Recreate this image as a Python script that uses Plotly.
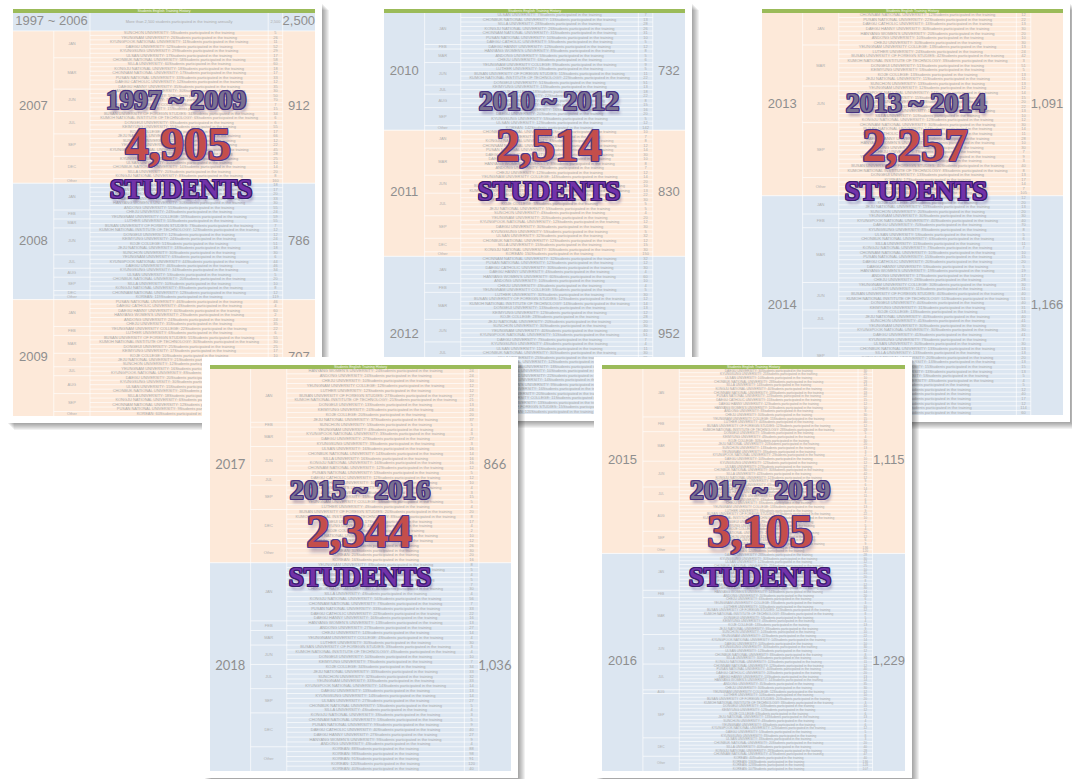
import plotly.graph_objects as go

W, H = 1072, 779

# ---------------- data ----------------
PANEL_RANGES = ["1997 ~ 2009", "2010 ~ 2012", "2013 ~ 2014", "2015 ~ 2016", "2017 ~ 2019"]
PANEL_TOTALS = ["4,905", "2,514", "2,257", "2,344", "3,105"]
PANEL_WORD = "STUDENTS"

PANEL_YEARS = [["1997 ~ 2006", "2007", "2008", "2009"], ["2010", "2011", "2012"],
               ["2013", "2014"], ["2017", "2018"], ["2015", "2016"]]
PANEL_YEAR_TOTALS = [["2,500", "912", "786", "707"], ["732", "830", "952"],
                     ["1,091", "1,166"], ["866", "1,036"], ["1,115", "1,229"]]

HEADER = "Students English Training History"
EARLY_NOTE = "More than 2,500 students participated in the training annually"
EARLY_COUNT = "2,500"
SENTENCE = "Students participated in the training"
OTHER_NAME = "KOREAN"
UNIVERSITIES = [
    "SUNCHON UNIVERSITY", "YEUNGNAM UNIVERSITY", "KYUNGPOOK NATIONAL UNIVERSITY",
    "DAEGU UNIVERSITY", "KYUNGSUNG UNIVERSITY", "ULSAN UNIVERSITY",
    "CHONBUK NATIONAL UNIVERSITY", "SILLA UNIVERSITY", "KONGJU NATIONAL UNIVERSITY",
    "CHONNAM NATIONAL UNIVERSITY", "PUSAN NATIONAL UNIVERSITY", "DAEGU CATHOLIC UNIVERSITY",
    "DAEGU HANNY UNIVERSITY", "HANYANG WOMEN'S UNIVERSITY", "ANDONG UNIVERSITY",
    "CHEJU UNIVERSITY", "YEUNGNAM UNIVERSITY COLLEGE", "LUTHER UNIVERSITY",
    "BUSAN UNIVERSITY OF FOREIGN STUDIES", "KUMOH NATIONAL INSTITUTE OF TECHNOLOGY",
    "DONGEUI UNIVERSITY", "KEIMYUNG UNIVERSITY", "KOJE COLLEGE", "JEJU NATIONAL UNIVERSITY",
]

MONTHS_2007 = ["JAN", "MAR", "JUN", "JUL", "SEP", "DEC", "Other"]
SPANS_2007 = [6, 7, 5, 5, 5, 5, 1]
COUNTS_2007 = [5, 26, 11, 52, 29, 17, 58, 60, 18, 17, 33, 12, 35, 30, 50, 70, 7, 15, 34, 6, 6, 55,
               17, 66, 12, 22, 45, 28, 25, 10, 14, 20, 8, 160]

MONTHS_2008 = ["JAN", "FEB", "MAR", "JUN", "JUL", "AUG", "SEP", "DEC", "Other"]
SPANS_2008 = [6, 2, 2, 6, 3, 2, 3, 1, 1]
COUNTS_2008 = [18, 17, 20, 33, 30, 55, 24, 59, 55, 7, 12, 12, 24, 51, 18, 30, 6, 44, 46, 34, 5, 20,
               10, 8, 12, 119]

MONTHS_2009 = ["JAN", "FEB", "MAR", "JUN", "JUL", "AUG", "SEP", "Other"]
SPANS_2009 = [6, 2, 4, 3, 2, 4, 4, 1]
COUNTS_2009 = [46, 4, 60, 2, 24, 35, 22, 6, 55, 30, 25, 17, 10, 21, 12, 16, 8, 20, 30, 15, 24, 18,
               6, 12, 9, 60]

MONTHS_2010 = ["JAN", "FEB", "MAR", "JUN", "JUL", "AUG", "SEP", "Other"]
SPANS_2010 = [7, 1, 3, 5, 2, 3, 4, 1]
COUNTS_2010 = [7, 13, 28, 26, 31, 10, 5, 12, 8, 5, 6, 9, 5, 11, 22, 51, 13, 18, 22, 8, 15, 16, 20,
               5, 12, 142]

MONTHS_2011 = ["JAN", "MAR", "JUN", "JUL", "SEP", "DEC", "Other"]
SPANS_2011 = [4, 6, 4, 5, 5, 3, 1]
COUNTS_2011 = [10, 7, 8, 12, 14, 30, 10, 8, 7, 12, 14, 20, 10, 13, 22, 30, 5, 5, 4, 20, 12, 30, 5,
               32, 12, 15, 30, 150]

MONTHS_2012 = ["JAN", "FEB", "MAR", "JUN", "JUL", "AUG", "SEP", "DEC", "Other"]
SPANS_2012 = [6, 2, 6, 5, 5, 3, 4, 3, 1]
COUNTS_2012 = [32, 12, 30, 4, 60, 10, 4, 5, 30, 12, 14, 13, 12, 28, 20, 30, 40, 51, 7, 4, 11, 30,
               25, 12, 18, 10, 22, 14, 9, 16, 20, 11, 13, 15, 120]

MONTHS_2013 = ["JAN", "MAR", "JUN", "SEP", "Other"]
SPANS_2013 = [7, 9, 8, 12, 4]
COUNTS_2013 = [12, 22, 13, 30, 20, 10, 30, 13, 24, 42, 3, 51, 5, 13, 11, 13, 12, 14, 15, 20, 22,
               13, 10, 12, 30, 14, 11, 28, 10, 30, 7, 9, 3, 40, 8, 13, 17, 14, 7, 105]

MONTHS_2014 = ["JAN", "FEB", "MAR", "JUN", "JUL", "SEP", "Other"]
SPANS_2014 = [4, 3, 12, 6, 4, 12, 7]
COUNTS_2014 = [12, 20, 13, 20, 30, 40, 70, 8, 5, 6, 11, 7, 10, 15, 20, 5, 19, 17, 28, 30, 11, 40,
               51, 40, 31, 13, 40, 41, 30, 30, 41, 7, 30, 13, 13, 20, 13, 15, 13, 5, 4, 5, 12, 40,
               17, 12, 114, 60]

MONTHS_2017 = ["JAN", "FEB", "MAR", "JUN", "JUL", "SEP", "DEC", "Other"]
SPANS_2017 = [11, 1, 4, 6, 2, 5, 7, 4]
COUNTS_2017 = [24, 24, 10, 12, 12, 27, 21, 13, 24, 20, 37, 5, 4, 3, 27, 3, 16, 14, 16, 16, 12, 5,
               12, 10, 4, 3, 15, 5, 4, 20, 8, 17, 4, 2, 10, 12, 26, 30, 20, 16]

MONTHS_2018 = ["JAN", "FEB", "MAR", "JUN", "JUL", "SEP", "DEC", "Other"]
SPANS_2018 = [12, 2, 3, 4, 5, 5, 7, 5]
COUNTS_2018 = [8, 5, 4, 5, 7, 30, 4, 56, 7, 33, 22, 16, 13, 27, 14, 4, 30, 3, 4, 10, 7, 34, 33, 32,
               33, 14, 13, 14, 27, 5, 4, 3, 5, 9, 40, 27, 9, 4, 88, 98, 91, 120, 40]

MONTHS_2015 = ["JAN", "FEB", "MAR", "JUN", "JUL", "AUG", "SEP", "Other"]
SPANS_2015 = [13, 4, 8, 7, 4, 8, 4, 2]
COUNTS_2015 = [30, 25, 10, 28, 14, 40, 18, 22, 15, 12, 10, 8, 30, 15, 40, 12, 28, 5, 4, 30, 20, 13,
               3, 2, 10, 12, 27, 30, 42, 12, 9, 6, 14, 4, 11, 6, 8, 13, 9, 22, 10, 7, 5, 4, 20, 12,
               6, 9, 136, 120]

MONTHS_2016 = ["JAN", "FEB", "MAR", "JUN", "JUL", "AUG", "SEP", "DEC", "Other"]
SPANS_2016 = [10, 2, 10, 8, 7, 1, 12, 5, 4]
COUNTS_2016 = [28, 30, 12, 25, 10, 15, 20, 8, 12, 30, 14, 20, 6, 3, 10, 12, 8, 5, 4, 13, 9, 10, 22,
               14, 10, 30, 12, 8, 30, 11, 12, 40, 20, 13, 14, 35, 30, 12, 10, 20, 3, 10, 12, 6, 13,
               4, 6, 12, 5, 8, 3, 20, 40, 28, 47, 40, 136, 128, 107]

YEAR_DATA = {
    "2007": (MONTHS_2007, SPANS_2007, COUNTS_2007),
    "2008": (MONTHS_2008, SPANS_2008, COUNTS_2008),
    "2009": (MONTHS_2009, SPANS_2009, COUNTS_2009),
    "2010": (MONTHS_2010, SPANS_2010, COUNTS_2010),
    "2011": (MONTHS_2011, SPANS_2011, COUNTS_2011),
    "2012": (MONTHS_2012, SPANS_2012, COUNTS_2012),
    "2013": (MONTHS_2013, SPANS_2013, COUNTS_2013),
    "2014": (MONTHS_2014, SPANS_2014, COUNTS_2014),
    "2015": (MONTHS_2015, SPANS_2015, COUNTS_2015),
    "2016": (MONTHS_2016, SPANS_2016, COUNTS_2016),
    "2017": (MONTHS_2017, SPANS_2017, COUNTS_2017),
    "2018": (MONTHS_2018, SPANS_2018, COUNTS_2018),
}

# ---------------- style ----------------
BLUE, ORANGE, GREEN = "#dce6f1", "#fde9d9", "#9bbb59"
COLS = (0.135, 0.255, 0.845, 0.893)
HEAD_H = 4
EARLY_UNITS = 4
BIG_FONT = "Liberation Serif"

PANEL_STYLE = [
    dict(table=(13, 315, 9, 416), bands=[BLUE, ORANGE, BLUE, ORANGE], font="Liberation Sans",
         ov_x=(176, 178, 181), ov_y=(102, 148, 191), name0=0),
    dict(table=(384, 685, 9, 414), bands=[BLUE, ORANGE, BLUE], font="Liberation Sans",
         ov_x=(549, 549, 549), ov_y=(103, 149, 193), name0=5),
    dict(table=(762, 1063, 9, 415), bands=[ORANGE, BLUE], font="Liberation Sans",
         ov_x=(916, 915, 916), ov_y=(105, 149, 193), name0=9),
    dict(table=(210, 511, 365, 771), bands=[ORANGE, BLUE], font="Lato",
         ov_x=(360, 359, 360), ov_y=(492, 535, 579), name0=13),
    dict(table=(602, 905, 365, 771), bands=[ORANGE, BLUE], font="Liberation Sans",
         ov_x=(760, 760, 760), ov_y=(492, 535, 579), name0=3),
]


def outline(c, glow):
    parts = [f"{dx}px {dy}px 0 {c}" for dx, dy in
             [(-1, -1), (1, -1), (-1, 1), (1, 1), (0, -1), (0, 1), (-1, 0), (1, 0)]]
    parts.append(glow)
    return ", ".join(parts)


OV_STYLES = [
    dict(size=28, color="#7a7190", shadow=outline("#46307f", "2px 4px 3px rgba(70,50,110,0.35)")),
    dict(size=47, color="#c44e4b", shadow=outline("#4e3a8e", "2px 5px 4px rgba(70,50,110,0.35)")),
    dict(size=27, color="#7232a8", shadow=outline("#3a1b6e", "2px 4px 3px rgba(60,30,100,0.35)")),
]

fig = go.Figure()
axes = {}


def add_rect(xr, yr, x0, y0, x1, y1, color):
    fig.add_trace(go.Scatter(x=[x0, x1, x1, x0, x0], y=[y0, y0, y1, y1, y0], mode="lines",
                             fill="toself", fillcolor=color, line=dict(width=0, color=color),
                             xaxis=xr, yaxis=yr, hoverinfo="skip", showlegend=False))


def add_text(xr, yr, xs, ys, texts, size, color, family, weight="normal", shadow=None):
    tf = dict(size=size, color=color, family=family, weight=weight)
    if shadow:
        tf["shadow"] = shadow
    fig.add_trace(go.Scatter(x=xs, y=ys, text=texts, mode="text", textposition="middle center",
                             textfont=tf, xaxis=xr, yaxis=yr, hoverinfo="skip", showlegend=False))


for i, (st, years, totals) in enumerate(zip(PANEL_STYLE, PANEL_YEARS, PANEL_YEAR_TOTALS), start=1):
    sfx = "" if i == 1 else str(i)
    xr, yr = "x" + sfx, "y" + sfx
    tx0, tx1, ty0, ty1 = st["table"]
    cx0, cy0, cx1, cy1 = tx0 - 8, ty0 - 8, tx1 + 7, ty1 + 7
    bx0, by0 = max(cx0, 0), max(cy0, 0)
    bx1, by1 = min(cx1 + 10, W), min(cy1 + 10, H)
    axes["xaxis" + sfx] = dict(domain=[bx0 / W, bx1 / W], range=[bx0, bx1], visible=False,
                               fixedrange=True, anchor=yr)
    axes["yaxis" + sfx] = dict(domain=[1 - by1 / H, 1 - by0 / H], range=[by1, by0], visible=False,
                               fixedrange=True, anchor=xr)

    # card shadow + card
    for d in range(1, 8):
        add_rect(xr, yr, cx0 + d + 2, cy0 + d + 2, cx1 + d, cy1 + d, "rgba(0,0,0,0.055)")
    add_rect(xr, yr, cx0, cy0, cx1, cy1, "white")
    add_rect(xr, yr, tx0, ty0, tx1, ty0 + HEAD_H, GREEN)

    units = [sum(YEAR_DATA[y][1]) if y in YEAR_DATA else EARLY_UNITS for y in years]
    row_h = (ty1 - ty0 - HEAD_H) / sum(units)
    tw = tx1 - tx0
    xc = [tx0 + f * tw for f in COLS]
    x_year = (tx0 + xc[0]) / 2
    x_month = (xc[0] + xc[1]) / 2
    x_desc = (xc[1] + xc[2]) / 2
    x_num = (xc[2] + xc[3]) / 2
    x_tot = (xc[3] + tx1) / 2
    fs = min(4.0, row_h * 0.88)

    lx, ly = [], []
    dx, dy, dt = [], [], []
    nx, ny, nt = [], [], []
    mx, my, mt = [], [], []
    yx, yy, yt = [], [], []
    tot_x, tot_y, tot_t = [], [], []

    def hline(x0, x1, y):
        lx.extend([x0, x1, None])
        ly.extend([y, y, None])

    top = ty0 + HEAD_H
    first_regular = None
    name_idx = st["name0"]
    for y_label, tot, u, band in zip(years, totals, units, st["bands"]):
        y_top = top
        y_bot = top + u * row_h
        add_rect(xr, yr, tx0, y_top, tx1, y_bot, band)
        yc = (y_top + y_bot) / 2
        tot_x.append(x_tot); tot_y.append(yc); tot_t.append(tot)
        if y_label in YEAR_DATA:
            if first_regular is None:
                first_regular = y_top
            yx.append(x_year); yy.append(yc); yt.append(y_label)
            months, spans, counts = YEAR_DATA[y_label]
            r = 0
            for m, s in zip(months, spans):
                g_top = y_top + r * row_h
                if r > 0:
                    hline(xc[0], xc[3], g_top)
                mx.append(x_month); my.append(g_top + s * row_h / 2); mt.append(m)
                for k in range(s):
                    ry = y_top + (r + 0.5) * row_h
                    if k > 0:
                        hline(xc[1], xc[3], y_top + r * row_h)
                    if m == "Other":
                        name = OTHER_NAME
                    else:
                        name = UNIVERSITIES[name_idx % len(UNIVERSITIES)]
                        name_idx += 1
                    c = counts[r] if r < len(counts) else ""
                    dx.append(x_desc); dy.append(ry); dt.append(f"{name}: {c}{SENTENCE}")
                    nx.append(x_num); ny.append(ry); nt.append(str(c))
                    r += 1
        else:
            yx.append((tx0 + xc[1]) / 2); yy.append(yc); yt.append(y_label)
            dx.append(x_desc); dy.append(yc); dt.append(EARLY_NOTE)
            nx.append(x_num); ny.append(yc); nt.append(EARLY_COUNT)
        if y_top > ty0 + HEAD_H:
            hline(tx0, tx1, y_top)
        top = y_bot

    # vertical column separators
    vstart = first_regular if first_regular is not None else ty0 + HEAD_H
    lx.extend([xc[0], xc[0], None]); ly.extend([vstart, ty1, None])
    for xv in xc[1:]:
        lx.extend([xv, xv, None]); ly.extend([ty0 + HEAD_H, ty1, None])
    fig.add_trace(go.Scatter(x=lx, y=ly, mode="lines",
                             line=dict(color="rgba(255,255,255,0.95)", width=0.7),
                             xaxis=xr, yaxis=yr, hoverinfo="skip", showlegend=False))

    add_text(xr, yr, [(tx0 + tx1) / 2], [ty0 + HEAD_H / 2], [HEADER], 3.6, "#f4f8ec", "Liberation Sans")
    add_text(xr, yr, dx, dy, dt, fs, "#ababab", "Liberation Sans")
    add_text(xr, yr, nx, ny, nt, fs, "#adadad", "Liberation Sans")
    add_text(xr, yr, mx, my, mt, fs, "#b0b0b0", "Liberation Sans")
    add_text(xr, yr, yx, yy, yt, 13, "#8f8f8f", st["font"])
    add_text(xr, yr, tot_x, tot_y, tot_t, 13, "#8f8f8f", st["font"])

    # overlay headline
    for txt, ox, oy, ost in zip([PANEL_RANGES[i - 1], PANEL_TOTALS[i - 1], PANEL_WORD],
                                st["ov_x"], st["ov_y"], OV_STYLES):
        add_text(xr, yr, [ox], [oy], [txt], ost["size"], ost["color"], BIG_FONT,
                 weight="bold", shadow=ost["shadow"])

fig.update_layout(width=W, height=H, margin=dict(l=0, r=0, t=0, b=0),
                  paper_bgcolor="white", plot_bgcolor="rgba(0,0,0,0)", showlegend=False, **axes)

fig.write_html("out.html", config={"displayModeBar": False, "staticPlot": True},
               post_script="document.body.style.margin='0';document.body.style.overflow='hidden';")
